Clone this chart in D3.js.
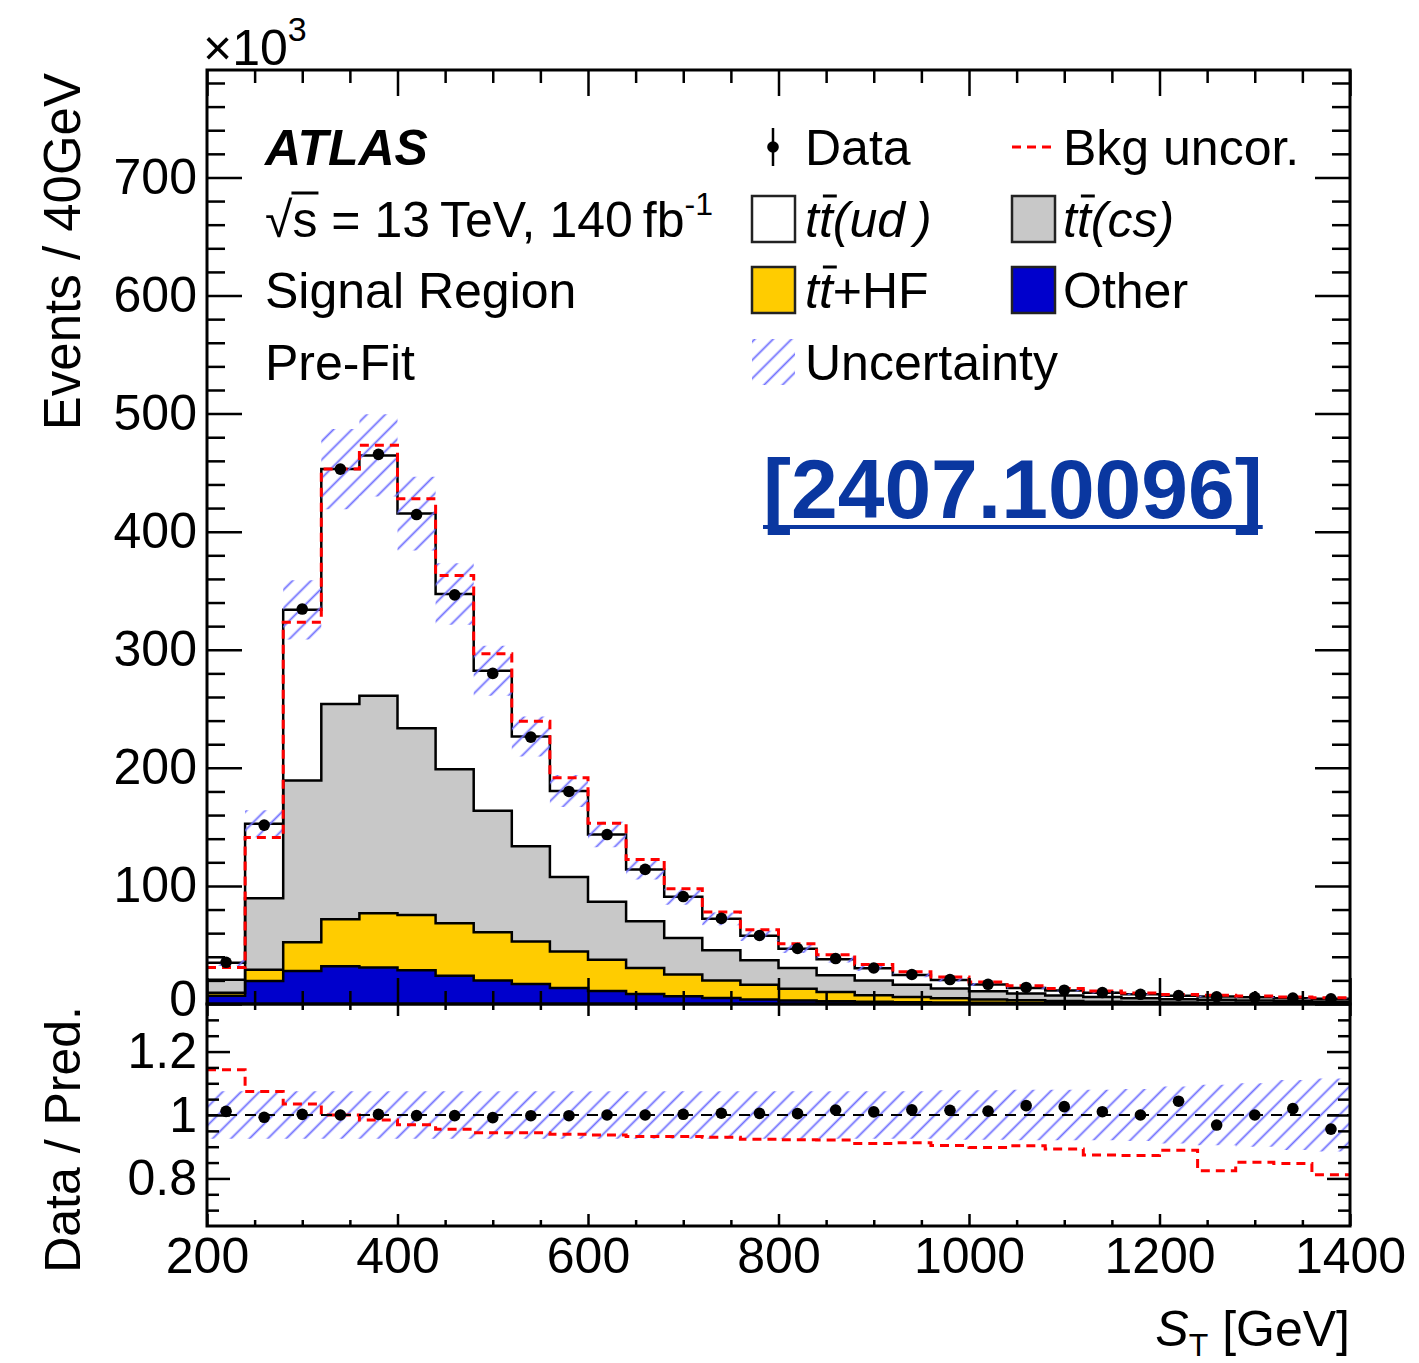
<!DOCTYPE html>
<html><head><meta charset="utf-8">
<script src="https://cdn.jsdelivr.net/npm/d3@7"></script>
<style>
body{margin:0;background:#fff;}
svg text{font-family:"Liberation Sans",Arial,Helvetica,sans-serif;}
</style>
</head><body>
<svg id="c" width="1419" height="1363"></svg>
<script>
// ---------------- data (values in units of 10^3 events / 40 GeV) ----------------
const binLow = [200,240,280,320,360,400,440,480,520,560,600,640,680,720,760,800,840,880,920,960,1000,1040,1080,1120,1160,1200,1240,1280,1320,1360];
const binWidth = 40;
const dataVals = [35.3,151.5,334.5,453,465.5,414.5,346.5,280,226,180,143.5,114,91,72.5,58,47,38.5,30.5,25,20.7,16.7,14.0,11.7,9.7,8.2,7.2,6.1,5.7,5.0,4.3];
const otherVals = [7,19.5,28,32,31,28.5,24,20,17,13.5,11,8.5,6.5,5,3.8,3,2.4,1.9,1.5,1.2,1.0,0.8,0.7,0.6,0.5,0.4,0.35,0.3,0.25,0.2];
const hfVals = [2.5,9.5,24.3,39.8,45.8,46.9,44.4,40.7,36,31,26.5,22,18.5,15,12.5,10,7.8,5.6,4.5,3.6,2.9,2.3,1.8,1.4,1.1,0.9,0.75,0.6,0.5,0.4];
const ttcsVals = [11,60.6,137,182.2,184.2,158.2,130.5,102.9,80.5,63,49,39.5,31,25.5,20.7,17.5,14.1,12.5,10.3,8.4,6.9,5.7,4.7,3.9,3.2,2.7,2.4,2.1,1.75,1.6];
const ttudVals = [14.4,63,144.5,199,203.6,181.7,148.3,118.7,93,72.9,57,44,34.8,26.6,20.7,16.3,13.6,10.2,8.3,7.2,5.7,4.8,4.2,3.7,3.4,2.9,2.8,2.7,2.4,2.3];
const bkgUncorVals = [30.9,141.1,323.2,453,473.1,427.8,362.8,296.6,239.4,191.7,153.1,122.3,97.6,78,62.8,51,41.8,33.5,27.4,22.9,18.6,15.5,13.1,11.1,9.4,8.1,7.4,6.7,5.9,5.3];
const uncRel = [0.075,0.075,0.075,0.075,0.075,0.075,0.075,0.075,0.075,0.075,0.075,0.075,0.075,0.075,0.075,0.075,0.075,0.075,0.075,0.078,0.078,0.08,0.08,0.08,0.082,0.09,0.095,0.10,0.11,0.115];

const yMainTicks = [0,100,200,300,400,500,600,700];
const yRatioTicks = [0.8,1,1.2];
const xTicks = [200,400,600,800,1000,1200,1400];

const colors = {other:"#0000cc", hf:"#ffcc00", cs:"#c8c8c8", ud:"#ffffff"};
const hatchColor = "#6f6fff";

// ---------------- scales ----------------
const L=207, R=1350, T=70, MB=1004, RB=1226;
const x = d3.scaleLinear().domain([200,1400]).range([L,R]);
const y = d3.scaleLinear().domain([0,791]).range([MB,T]);
const yr = d3.scaleLinear().domain([0.65,1.35]).range([RB,MB]);

const svg = d3.select("#c");
svg.append("rect").attr("width",1419).attr("height",1363).attr("fill","#fff");
const defs = svg.append("defs");
const pat = defs.append("pattern").attr("id","hatch").attr("patternUnits","userSpaceOnUse")
  .attr("width",13).attr("height",13).attr("patternTransform","rotate(45)");
pat.append("line").attr("x1",6.5).attr("y1",-1).attr("x2",6.5).attr("y2",14)
  .attr("stroke",hatchColor).attr("stroke-width",1.8);
defs.append("clipPath").attr("id","clipMain").append("rect").attr("x",L).attr("y",T).attr("width",R-L).attr("height",MB-T);
defs.append("clipPath").attr("id","clipRatio").append("rect").attr("x",L).attr("y",MB).attr("width",R-L).attr("height",RB-MB);

// ---------------- stack ----------------
const rows = binLow.map((lo,i)=>({lo, hi:lo+binWidth, other:otherVals[i], hf:hfVals[i], cs:ttcsVals[i], ud:ttudVals[i]}));
const keys = ["other","hf","cs","ud"];
const series = d3.stack().keys(keys)(rows);
const totals = series[3].map(d=>d[1]);

function stepPts(f0, f1){
  return rows.flatMap((r,i)=>[{x:r.lo,y0:f0(i),y1:f1(i)},{x:r.hi,y0:f0(i),y1:f1(i)}]);
}

const gMain = svg.append("g").attr("clip-path","url(#clipMain)");
const area = d3.area().x(p=>x(p.x)).y0(p=>y(p.y0)).y1(p=>y(p.y1));
const topLine = d3.line().x(p=>x(p.x)).y(p=>y(p.y1));

series.forEach(s=>{
  const pts = stepPts(i=>s[i][0], i=>s[i][1]);
  gMain.append("path").attr("d",area(pts)).attr("fill",colors[s.key]).attr("stroke","none");
});
series.forEach(s=>{
  const pts = stepPts(i=>s[i][0], i=>s[i][1]);
  gMain.append("path").attr("d",topLine(pts)).attr("fill","none").attr("stroke","#000").attr("stroke-width",2.5);
});

// uncertainty band
const bandPts = stepPts(i=>totals[i]*(1-uncRel[i]), i=>totals[i]*(1+uncRel[i]));
gMain.append("path").attr("d",area(bandPts)).attr("fill","url(#hatch)");

// bkg uncor
const uncPts = stepPts(i=>0, i=>bkgUncorVals[i]);
gMain.append("path").attr("d",topLine(uncPts)).attr("fill","none").attr("stroke","#ff0000")
  .attr("stroke-width",3).attr("stroke-dasharray","9,6");

// data points
binLow.forEach((lo,i)=>{
  const cx = x(lo+binWidth/2), v = dataVals[i], e = Math.sqrt(v*1000)/1000;
  gMain.append("line").attr("x1",cx).attr("x2",cx).attr("y1",y(v-e)).attr("y2",y(v+e)).attr("stroke","#000").attr("stroke-width",2);
  gMain.append("circle").attr("cx",cx).attr("cy",y(v)).attr("r",5.8).attr("fill","#000");
});

// ---------------- ratio ----------------
const gR = svg.append("g").attr("clip-path","url(#clipRatio)");
const areaR = d3.area().x(p=>x(p.x)).y0(p=>yr(p.y0)).y1(p=>yr(p.y1));
const lineR = d3.line().x(p=>x(p.x)).y(p=>yr(p.y1));
gR.append("path").attr("d",areaR(stepPts(i=>1-uncRel[i], i=>1+uncRel[i]))).attr("fill","url(#hatch)");
gR.append("path").attr("d",lineR(stepPts(i=>1, i=>dataVals[i]/bkgUncorVals[i]))).attr("fill","none")
  .attr("stroke","#ff0000").attr("stroke-width",3).attr("stroke-dasharray","9,6");
gR.append("line").attr("x1",L).attr("x2",R).attr("y1",yr(1)).attr("y2",yr(1))
  .attr("stroke","#000").attr("stroke-width",2).attr("stroke-dasharray","11,8");
binLow.forEach((lo,i)=>{
  const cx = x(lo+binWidth/2), r = dataVals[i]/totals[i];
  const e = Math.sqrt(dataVals[i]*1000)/1000/totals[i];
  gR.append("line").attr("x1",cx).attr("x2",cx).attr("y1",yr(r-e)).attr("y2",yr(r+e)).attr("stroke","#000").attr("stroke-width",2);
  gR.append("circle").attr("cx",cx).attr("cy",yr(r)).attr("r",5.8).attr("fill","#000");
});

// ---------------- axes ----------------
function styleAxis(g, fs){
  g.select(".domain").remove();
  g.attr("font-family",null).attr("font-size",null);
  g.selectAll("line").attr("stroke","#000").attr("stroke-width",2.5);
  g.selectAll("text").attr("font-size",fs||50).attr("fill","#000")
    .style("font-family",'"Liberation Sans",Arial,Helvetica,sans-serif');
}
function addAxis(gen, tx, ty, vals, size, fmt, pad){
  const a = gen.tickValues(vals).tickSizeInner(-size).tickSizeOuter(0).tickPadding(pad||10)
    .tickFormat(fmt===null ? ()=>"" : fmt);
  const g = svg.append("g").attr("transform",`translate(${tx},${ty})`).call(a);
  styleAxis(g);
  return g;
}
const yMinor = d3.range(20,791,20).filter(v=>v%100!==0);
const xMinor = d3.range(250,1400,50).filter(v=>v%200!==0);
const rMinor = [0.7,0.75,0.85,0.9,0.95,1.05,1.1,1.15,1.25,1.3];

// main panel
const gy = addAxis(d3.axisLeft(y), L,0, yMainTicks, 35, d=>String(d), 10);
gy.selectAll(".tick").filter(d=>d===0).select("text").attr("dy","0.22em");
addAxis(d3.axisLeft(y), L,0, yMinor, 18, null);
addAxis(d3.axisRight(y), R,0, yMainTicks, 35, null);
addAxis(d3.axisRight(y), R,0, yMinor, 18, null);
addAxis(d3.axisTop(x), 0,T, xTicks, 26, null);
addAxis(d3.axisTop(x), 0,T, xMinor, 13, null);
addAxis(d3.axisBottom(x), 0,MB, xTicks, 26, null);
addAxis(d3.axisBottom(x), 0,MB, xMinor, 13, null);
// ratio panel
addAxis(d3.axisLeft(yr), L,0, yRatioTicks, 23, d=>d===1?"1":d.toFixed(1), 10);
addAxis(d3.axisLeft(yr), L,0, rMinor, 12, null);
addAxis(d3.axisRight(yr), R,0, yRatioTicks, 23, null);
addAxis(d3.axisRight(yr), R,0, rMinor, 12, null);
addAxis(d3.axisTop(x), 0,MB, xTicks, 12, null);
addAxis(d3.axisTop(x), 0,MB, xMinor, 6, null);
addAxis(d3.axisBottom(x), 0,RB, xTicks, 12, d=>String(d), 11);
addAxis(d3.axisBottom(x), 0,RB, xMinor, 6, null);

// frames
svg.append("rect").attr("x",L).attr("y",T).attr("width",R-L).attr("height",MB-T).attr("fill","none").attr("stroke","#000").attr("stroke-width",3);
svg.append("rect").attr("x",L).attr("y",MB).attr("width",R-L).attr("height",RB-MB).attr("fill","none").attr("stroke","#000").attr("stroke-width",3);

// ---------------- texts ----------------
const FF = '"Liberation Sans",Arial,Helvetica,sans-serif';
function txt(xp, yp, s, opts={}){
  const t = svg.append("text").attr("x",xp).attr("y",yp).attr("font-size",opts.fs||50)
    .attr("fill",opts.fill||"#000").style("font-family",FF).text(s);
  if(opts.bold) t.attr("font-weight","bold");
  if(opts.italic) t.attr("font-style","italic");
  if(opts.anchor) t.attr("text-anchor",opts.anchor);
  return t;
}
// x10^3
const tm = txt(203,65,"×10",{fs:50});
tm.append("tspan").attr("font-size",34).attr("dy",-24).text("3");

// axis titles
svg.append("text").attr("transform","translate(80,73) rotate(-90)").attr("text-anchor","end")
  .attr("font-size",51).style("font-family",FF).text("Events / 40GeV");
svg.append("text").attr("transform","translate(80,1006) rotate(-90)").attr("text-anchor","end")
  .attr("font-size",50).style("font-family",FF).text("Data / Pred.");
const xt = svg.append("text").attr("x",1350).attr("y",1346).attr("text-anchor","end")
  .attr("font-size",50).style("font-family",FF);
xt.append("tspan").attr("font-style","italic").text("S");
xt.append("tspan").attr("font-size",32).attr("dy",10).text("T");
xt.append("tspan").attr("dy",-10).text(" [GeV]");

// ATLAS label
txt(265,165,"ATLAS",{bold:true,italic:true});
const sq = txt(265,237,"√s = 13\u2009TeV, 140\u2009fb");
sq.append("tspan").attr("font-size",32).attr("dy",-22).text("-1");
{
  const n = sq.node();
  const x0 = n.getStartPositionOfChar(1).x, x1 = n.getEndPositionOfChar(1).x;
  svg.append("line").attr("x1",x0-1).attr("x2",x1+1).attr("y1",237-44).attr("y2",237-44)
    .attr("stroke","#000").attr("stroke-width",3);
}
txt(265,308,"Signal Region");
txt(265,380,"Pre-Fit");

// legend
const legRows = [165,237,308,380];
const col1 = 752, col2 = 1012, bw = 43, bh = 46;
// Data
svg.append("line").attr("x1",773).attr("x2",773).attr("y1",128).attr("y2",166).attr("stroke","#000").attr("stroke-width",2.5);
svg.append("circle").attr("cx",773).attr("cy",147).attr("r",5.8).attr("fill","#000");
txt(805,legRows[0],"Data");
svg.append("line").attr("x1",col2).attr("x2",col2+40).attr("y1",147).attr("y2",147).attr("stroke","#ff0000").attr("stroke-width",3).attr("stroke-dasharray","9,6");
txt(1063,legRows[0],"Bkg uncor.");
function legBox(xp, row, fill){
  svg.append("rect").attr("x",xp).attr("y",legRows[row]-41).attr("width",bw).attr("height",bh)
    .attr("fill",fill).attr("stroke",fill==="url(#hatch)"?"none":"#222").attr("stroke-width",2.5);
}
function ttLabel(xp, row, rest){
  const t = txt(xp, legRows[row], "tt"+rest, {italic:rest[0]==="("});
  if(rest[0]!=="("){
    t.text("");
    t.append("tspan").attr("font-style","italic").text("tt");
    t.append("tspan").text(rest);
  }
  const n = t.node();
  const a = n.getStartPositionOfChar(1).x, b = n.getEndPositionOfChar(1).x;
  svg.append("line").attr("x1",a+4).attr("x2",b+4).attr("y1",legRows[row]-41).attr("y2",legRows[row]-41)
    .attr("stroke","#000").attr("stroke-width",3);
}
legBox(col1,1,colors.ud); ttLabel(805,1,"(ud\u2009)");
legBox(col2,1,colors.cs); ttLabel(1063,1,"(cs)");
legBox(col1,2,colors.hf); ttLabel(805,2,"+HF");
legBox(col2,2,colors.other); txt(1063,legRows[2],"Other");
legBox(col1,3,"url(#hatch)"); txt(805,legRows[3],"Uncertainty");

// arXiv tag
const arx = txt(763,518,"[2407.10096]",{fs:84,bold:true,fill:"#0a37a0"});
{
  const w = arx.node().getComputedTextLength();
  svg.append("line").attr("x1",763).attr("x2",763+w).attr("y1",527).attr("y2",527).attr("stroke","#0a37a0").attr("stroke-width",4);
}
</script>
</body></html>
